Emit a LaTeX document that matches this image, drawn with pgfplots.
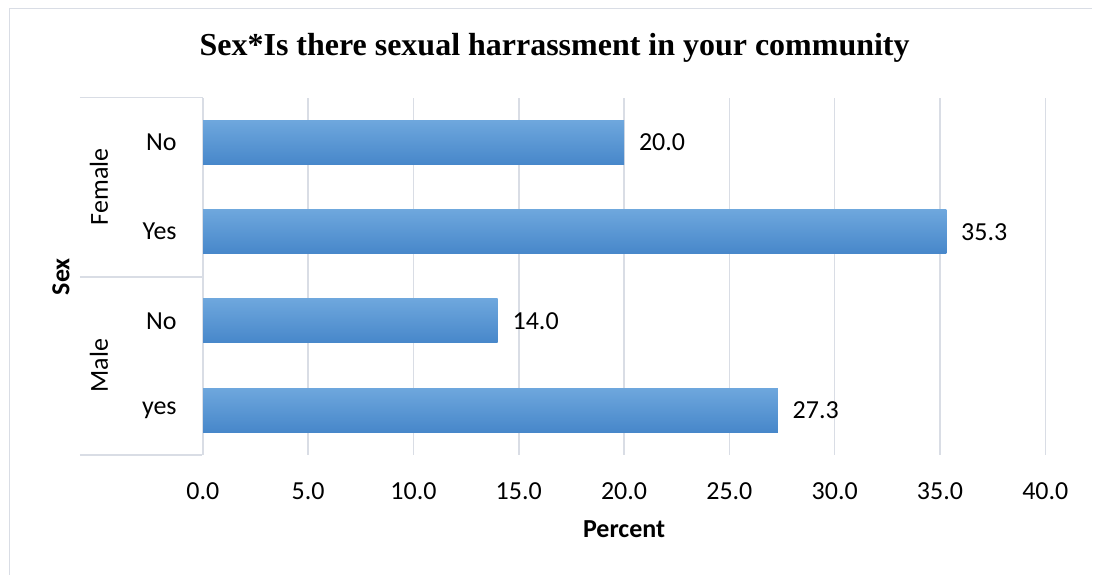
\documentclass[border=0pt]{standalone}
\usepackage{pgfplots}
\pgfplotsset{compat=1.18}
\usepackage{fontspec}
\setmainfont{Carlito}
\newfontfamily\titlefont{Liberation Serif}
\definecolor{gridc}{HTML}{D9DDE5}
\definecolor{bartop}{HTML}{6EA7DD}
\definecolor{barmid}{HTML}{5A9BDB}
\definecolor{barbot}{HTML}{4787CA}
\begin{document}
\begin{tikzpicture}
\begin{scope}[x=0.75pt,y=0.75pt]
\path (0,0) rectangle (1093,575);
\draw[gridc,line width=1.1pt] (9.5,0) -- (9.5,566.5) -- (1093,566.5);
\node[font=\titlefont\bfseries\fontsize{24}{28}\selectfont] at (555,575-48) {Sex*Is there sexual harrassment in your community};
\end{scope}
\begin{axis}[
  at={(152.25pt,90pt)}, anchor=south west,
  scale only axis, width=632.25pt, height=267.75pt,
  xmin=0, xmax=40, ymin=0.5, ymax=4.5,
  xtick={0,5,...,40},
  xticklabel={\pgfmathprintnumber[fixed,fixed zerofill,precision=1]{\tick}},
  /pgf/number format/assume math mode=true,
  ytick={1,2,3,4}, yticklabels={yes,No,Yes,No},
  xmajorgrids, grid style={gridc,line width=1.1pt},
  axis line style={draw=none}, major tick length=0pt,
  ticklabel style={font=\fontsize{19.5}{23}\selectfont},
  xticklabel style={inner sep=0pt, anchor=north, yshift=-21pt},
  yticklabel style={inner sep=0pt, anchor=east, xshift=-19.5pt},
  clip=false,
  mybar/.style={xbar, bar width=33pt, bar shift=0pt, draw=none, mark=none,
    top color=bartop, middle color=barmid, bottom color=barbot,
    point meta=x,
    nodes near coords={\pgfmathprintnumber[fixed,fixed zerofill,precision=1]{\pgfplotspointmeta}},
    nodes near coords style={anchor=west, inner sep=0pt, xshift=11pt, font=\fontsize{19.5}{23}\selectfont, text=black}},
]
\addplot[mybar] coordinates {(27.3,1)};
\addplot[mybar] coordinates {(14.0,2)};
\addplot[mybar] coordinates {(35.3,3)};
\addplot[mybar] coordinates {(20.0,4)};
\end{axis}
\begin{scope}[x=0.75pt,y=0.75pt]
\draw[gridc,line width=1.1pt] (80,575-97.5) -- (202.5,575-97.5);
\draw[gridc,line width=1.1pt] (80,575-277) -- (202.5,575-277);
\draw[gridc,line width=1.1pt] (80,575-455.5) -- (202.5,575-455.5);
\draw[gridc,line width=1.1pt] (202.5,575-97.5) -- (202.5,575-455.5);
\node[rotate=90, font=\fontsize{19.5}{23}\selectfont] at (99,575-187) {Female};
\node[rotate=90, font=\fontsize{19.5}{23}\selectfont] at (99,575-366) {Male};
\node[rotate=90, font=\bfseries\fontsize{19.5}{23}\selectfont] at (61,575-277) {Sex};
\node[font=\bfseries\fontsize{19.5}{23}\selectfont] at (624.5,575-530) {Percent};
\end{scope}
\end{tikzpicture}
\end{document}
